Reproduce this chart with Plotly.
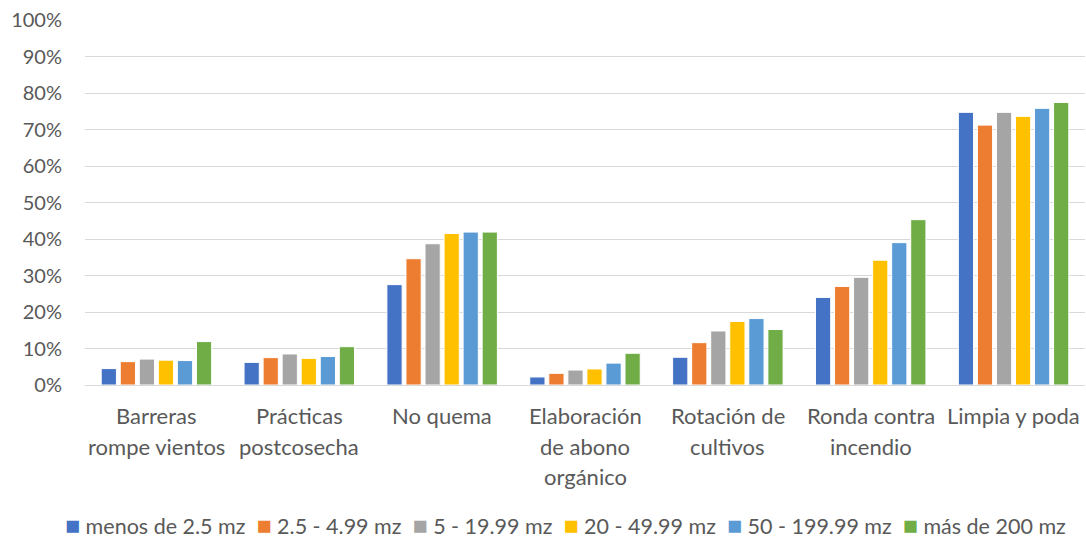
import plotly.graph_objects as go

categories = [
    "Barreras<br>rompe vientos",
    "Prácticas<br>postcosecha",
    "No quema",
    "Elaboración<br>de abono<br>orgánico",
    "Rotación de<br>cultivos",
    "Ronda contra<br>incendio",
    "Limpia y poda",
]

series_names = [
    "menos de 2.5 mz",
    "2.5 - 4.99 mz",
    "5 - 19.99 mz",
    "20 - 49.99 mz",
    "50 - 199.99 mz",
    "más de 200 mz",
]

menos_2_5 = [4.5, 6.2, 27.5, 2.2, 7.6, 24.0, 74.7]
de_2_5_a_4_99 = [6.4, 7.5, 34.6, 3.2, 11.6, 27.0, 71.2]
de_5_a_19_99 = [7.1, 8.5, 38.7, 4.1, 14.8, 29.5, 74.7]
de_20_a_49_99 = [6.8, 7.3, 41.5, 4.4, 17.4, 34.2, 73.6]
de_50_a_199_99 = [6.7, 7.8, 41.9, 6.0, 18.2, 39.0, 75.8]
mas_200 = [11.9, 10.5, 41.9, 8.7, 15.2, 45.3, 77.4]

series_values = [menos_2_5, de_2_5_a_4_99, de_5_a_19_99,
                 de_20_a_49_99, de_50_a_199_99, mas_200]
colors = ["#4472C4", "#ED7D31", "#A5A5A5", "#FFC000", "#5B9BD5", "#70AD47"]

y_ticks = list(range(0, 101, 10))
y_tick_labels = [f"{v}%" for v in y_ticks]

font_family = "Lato, Open Sans, sans-serif"
text_color = "#595959"
label_size = 22
legend_size = 21.5
tick_size = 20

fig = go.Figure()
for name, vals, col in zip(series_names, series_values, colors):
    fig.add_trace(go.Bar(
        x=categories, y=vals, name=name,
        marker=dict(color=col, line=dict(color="white", width=1)),
        showlegend=False,
    ))

# Category labels drawn line by line for wider line spacing
annotations = []
for cat in categories:
    for i, line in enumerate(cat.split("<br>")):
        annotations.append(dict(
            x=cat, xref="x", y=0, yref="paper",
            text=line, showarrow=False,
            xanchor="center", yanchor="top", yshift=-15 - 30.5 * i,
            font=dict(family=font_family, size=label_size, color=text_color),
        ))

# Compact legend row below the chart, centred on the whole figure width
legend_parts = [
    f"<span style='color:{col};font-size:25px'>■</span> {name}"
    for name, col in zip(series_names, colors)
]
plot_h = 541 - 20 - 156
annotations.append(dict(
    x=0.48, xref="paper", y=-(524 - (541 - 156)) / plot_h, yref="paper",
    text="  ".join(legend_parts), showarrow=False,
    xanchor="center", yanchor="middle",
    font=dict(family=font_family, size=legend_size, color=text_color),
))

fig.update_layout(
    width=1086, height=541,
    margin=dict(l=85, r=1, t=20, b=156),
    paper_bgcolor="white", plot_bgcolor="white",
    barmode="group", bargap=0.2, bargroupgap=0.2,
    font=dict(family=font_family, size=label_size, color=text_color),
    xaxis=dict(
        showgrid=False, showline=True, linecolor="#D9D9D9", linewidth=1,
        ticks="", showticklabels=False,
    ),
    yaxis=dict(
        range=[0, 100], tickvals=y_ticks, ticktext=y_tick_labels,
        showgrid=True, gridcolor="#D9D9D9", gridwidth=1,
        zeroline=False, ticks="", ticklabelstandoff=22,
        tickfont=dict(size=tick_size, color=text_color),
    ),
    annotations=annotations,
)

fig.write_html("out.html")
